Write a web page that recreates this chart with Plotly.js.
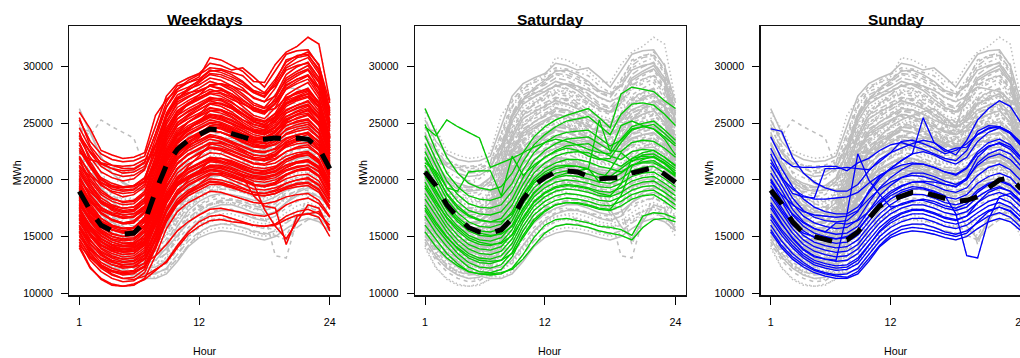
<!DOCTYPE html>
<html>
<head>
<meta charset="utf-8">
<script src="https://cdn.plot.ly/plotly-3.0.1.min.js"></script>
<style>
html,body{margin:0;padding:0;background:#fff;overflow:hidden;width:1020px;height:358px;}
#chart{width:1040px;height:358px;}
</style>
</head>
<body>
<div id="chart"></div>
<script>
// ---------------- DATA ----------------
const hours = [1,2,3,4,5,6,7,8,9,10,11,12,13,14,15,16,17,18,19,20,21,22,23,24];
const panelTitles = ["Weekdays", "Saturday", "Sunday"];
const xTickVals = [1, 12, 24];
const xTickText = ["1", "12", "24"];
const yTickVals = [10000, 15000, 20000, 25000, 30000];
const yTickText = ["10000", "15000", "20000", "25000", "30000"];

// Weekday load profiles (MWh)
const weekdays = [
[25300,23400,22300,21800,21600,21700,22100,24800,27400,28500,29000,29400,30300,30100,29700,29900,29100,28200,29600,31100,31400,31500,30100,26800],
[24600,22800,21400,21000,20800,20900,21500,24100,26900,28300,28600,28900,29700,29500,29100,28600,27800,27400,28700,30600,30900,31300,30200,26100],
[26000,24500,22600,22200,21900,22000,22400,25700,27100,28000,28600,29100,30800,30600,30100,29600,28700,28600,30200,31300,31800,32600,32000,27000],
[23700,22000,20700,20200,19900,20100,20900,23600,26400,27800,28200,28700,29300,29100,28700,28100,27200,26900,28100,29900,30400,30800,29400,25700],
[24200,21600,20100,19500,19300,19500,20100,22900,25900,27500,28000,28400,29000,28800,28300,27600,26800,26400,27500,29300,30000,30400,29000,25300],
[22600,21100,19800,19200,19000,19100,19900,22600,25600,27100,27600,28100,28700,28400,27900,27100,26400,26000,27200,29000,29600,30100,28700,25100],
[23100,21300,19600,18900,18500,18700,19400,22100,25100,26900,27400,27800,28300,28100,27600,26800,26100,25800,26800,28600,29200,29700,28200,24700],
[21600,20100,18900,18300,18100,18200,19000,21900,24900,26400,27000,27500,28000,27700,27300,26500,25700,25400,26400,28100,28700,29200,27700,24300],
[22100,20400,19100,18400,18000,18100,18800,21600,24400,26100,26600,27100,27600,27400,26900,26100,25400,25100,25900,27500,28100,28600,27200,23900],
[21100,19600,18400,17800,17500,17600,18400,21100,24100,25700,26300,26800,27300,27100,26600,25800,25100,24800,25600,27100,27700,28100,26800,23700],
[20600,19100,17900,17400,17100,17200,18000,20700,23700,25400,26000,26500,27000,26700,26300,25600,24900,24600,25300,26700,27200,27600,26400,23300],
[22400,21800,21500,21300,21200,21300,21800,22300,25800,27300,27700,27900,28300,28000,27400,26800,26200,25900,26700,28000,28500,28900,27500,24500],
[21900,19700,18100,17300,16900,17000,17700,20400,23400,25100,25700,26200,26700,26500,26000,25300,24700,24400,25100,26500,27000,27300,26100,23100],
[20100,18600,17400,16900,16600,16700,17500,20300,23100,24800,25400,25900,26400,26200,25800,25100,24500,24300,24900,26100,26600,27000,25800,22800],
[19900,18100,17000,16400,16100,16200,17100,19900,22800,24500,25100,25600,26100,25900,25500,24900,24300,24100,24700,25900,26300,26600,25500,22600],
[20400,18400,17100,16500,16200,16400,17200,19600,22400,24100,24800,25300,25800,25600,25200,24700,24200,24000,24400,25400,25800,26100,25100,22300],
[19600,17900,16600,16000,15700,15800,16700,19400,22200,23900,24600,25100,25600,25400,25000,24500,24000,23800,24200,25100,25400,25700,24800,22100],
[19100,17400,16200,15600,15300,15400,16300,19100,21900,23500,24300,24800,25300,25100,24700,24300,23800,23600,24000,24800,25100,25300,24400,21800],
[18800,17100,15900,15300,15000,15100,16000,18800,21600,23200,24000,24500,25000,24800,24400,24000,23600,23500,23700,24400,24700,24900,24100,21600],
[18500,16800,15600,15000,14700,14800,15700,18500,21300,22900,23700,24200,24700,24500,24100,23700,23300,23200,23400,24000,24300,24500,23700,21300],
[18200,16500,15300,14700,14400,14500,15400,18200,21000,22600,23400,23900,24400,24200,23800,23400,23000,22900,23100,23700,24000,24100,23400,21100],
[17900,16300,15100,14500,14200,14300,15100,17800,20600,22200,23000,23500,24000,23800,23400,23000,22600,22500,22700,23300,23600,23700,23000,20800],
[18600,17200,16300,15900,15700,15800,16500,18300,20900,22400,23100,23500,23900,23600,23200,22700,22200,22100,22500,23400,23900,24200,23400,21400],
[17500,15900,14800,14200,13900,14000,14800,17400,20200,21800,22600,23100,23600,23400,23000,22600,22200,22100,22300,22900,23200,23300,22600,20400],
[19300,17600,16400,15800,15500,15700,16700,19000,21600,23000,23600,24000,24400,24200,23900,23500,23200,23000,23700,25200,25800,26200,25000,22400],
[17200,15600,14500,13900,13600,13700,14500,17100,19800,21400,22200,22700,23200,23000,22600,22200,21800,21700,21900,22500,22800,22900,22200,20100],
[18000,16600,15500,15000,14800,14900,15500,17300,19500,21000,21800,22400,22900,22800,22500,22100,21800,21800,22200,23200,23700,24000,23100,21000],
[16900,15300,14200,13700,13400,13500,14300,16800,19400,21000,21800,22300,22800,22600,22200,21800,21400,21300,21500,22100,22400,22500,21800,19800],
[20800,19200,18000,17500,17200,17300,18000,20000,22600,24000,24600,25000,25500,25300,24900,24300,23800,23700,24300,25600,26100,26500,25400,22900],
[16600,15100,14000,13500,13200,13300,14000,16400,19000,20600,21400,21900,22400,22300,21900,21500,21100,21000,21200,21800,22100,22200,21500,19500],
[16300,14700,13600,13100,12800,12900,13600,16000,18600,20200,21000,21500,22000,21900,21500,21100,20700,20600,20800,21300,21600,21700,21100,19200],
[16000,14400,13300,12800,12500,12600,13300,15600,18200,19800,20600,21100,21600,21500,21100,20700,20300,20200,20400,20900,21200,21300,20700,18900],
[15700,14100,13000,12500,12200,12300,13000,15300,17900,19500,20200,20700,21200,21100,20700,20300,19900,19800,20000,20500,20800,20900,20300,18600],
[15400,13800,12700,12200,11900,12000,12700,15000,17500,19100,19800,20300,20800,20700,20300,19900,19500,19400,19600,20100,20400,20500,19900,18300],
[15100,13500,12500,11900,11600,11700,12400,14700,17200,18700,19500,20000,20500,20400,20000,19600,19200,19100,19300,19700,20000,20100,19500,18000],
[14800,13200,12200,11600,11300,11400,12100,14300,16800,18300,19100,19600,20100,20000,19700,19300,18900,18800,19000,19400,19700,19800,19200,17700],
[14500,12900,11900,11300,11000,11100,11800,14000,16500,18000,18800,19300,19800,19700,19400,19000,18700,18600,18800,19200,19400,19500,18900,17400],
[14000,12200,11300,10800,10600,10700,11300,13300,15700,17200,18000,18500,19000,18900,18600,18300,18000,17900,18100,18500,18700,18800,18200,16800],
[15900,14600,13700,13200,13000,13100,13600,15200,17400,18800,19600,20100,20600,20500,20200,19900,19600,19500,19800,20500,20900,21100,20400,18700],
[17000,15700,14800,14300,14100,14200,14800,16500,18700,20000,20700,21200,21700,21600,21300,20900,20600,20500,20800,21600,22000,22200,21500,19600],
[16600,15200,14300,13800,13600,13700,14300,16000,18200,19600,20300,20800,21300,21200,20900,20500,20200,20100,20400,21100,21500,21700,21000,19300],
[15300,13900,13000,12500,12300,12400,13000,14600,16700,18100,18900,19400,19900,19800,19500,19200,18900,18800,19100,19700,20000,20200,19600,18100],
[15500,13600,12400,11700,11300,11200,11500,12100,12700,14000,15200,15900,16400,16500,16300,16200,16000,15900,16100,16800,17200,17400,17000,16000],
[16500,14700,13500,12800,12400,12300,12600,13300,14300,15500,16300,16900,17400,17500,17300,17100,16900,16800,17100,17800,18200,18400,17900,16700],
[18200,16500,15300,14700,14400,14400,14900,16400,18500,19700,20300,20700,21100,21000,20700,20300,18600,17700,17500,14300,16800,17000,17200,15700],
[17600,15800,14600,14000,13700,13800,14400,16200,18300,19500,20100,20500,20900,20800,20500,20100,19700,17400,15900,14800,16300,17800,17500,15500],
[19500,17600,16300,15600,15300,15300,15800,17000,18800,19800,20300,20600,20900,21000,20700,20400,20100,20000,20200,20800,21100,21300,20800,19200],
[14200,12300,11200,10700,10600,10800,11200,12000,12800,14200,15400,16300,16800,16900,16600,16300,16000,15900,16000,16500,16900,17000,16700,15000],
[25500,23000,21800,21300,21000,21000,21600,24000,26500,28000,28800,29300,29900,29800,29500,29200,28300,27700,28900,30400,31000,31100,29600,26300],
[24000,22500,21500,21000,20600,20700,21200,23200,25800,27200,27900,28600,29400,29300,28900,28400,27700,27300,28500,30100,30800,31000,29800,25900],
[23300,21300,20200,19700,19400,19500,20200,22400,25200,26700,27300,27800,28300,28500,28300,27900,27300,26900,27400,28800,29400,29800,28600,25000],
[22000,20600,19500,19000,18800,18900,19600,21900,24600,26100,26800,27300,27700,27600,27100,26700,26300,26000,26800,28300,28900,29300,28100,24800],
[21300,19900,18700,18100,17800,17900,18700,21300,24200,25900,26700,27200,27800,27900,27600,27000,26400,26100,26300,27300,27600,27900,26900,24000],
[20900,19400,18200,17600,17300,17400,18200,20800,23800,25400,26100,26600,27200,27200,26800,26200,25500,25200,25800,27000,27400,27800,26700,23600],
[20200,18700,17600,17000,16700,16800,17600,20100,23100,24800,25600,26200,26800,26700,26300,25800,25300,25100,25600,26700,27100,27400,26400,23400],
[19700,18200,17100,16500,16200,16300,17100,19700,22600,24300,25100,25700,26300,26200,25800,25300,24900,24700,25200,26200,26600,26900,25900,23000],
[19200,17700,16600,16000,15700,15800,16600,19200,22100,23800,24600,25200,25800,25700,25300,24800,24400,24200,24700,25600,26000,26300,25400,22600],
[18900,17300,16200,15600,15400,15500,16300,18900,21700,23300,24100,24600,25100,25000,24600,24100,23700,23600,24200,25300,25700,25900,24900,22300],
[18400,16900,15800,15200,15000,15100,15900,18500,21200,22800,23600,24100,24700,24600,24200,23800,23400,23300,23800,24800,25200,25400,24400,21900],
[17800,16400,15400,14800,14600,14700,15500,18000,20800,22400,23200,23800,24300,24200,23800,23300,22900,22800,23200,24100,24500,24700,23800,21500],
[17400,16000,15000,14500,14200,14300,15100,17600,20400,22000,22800,23300,23800,23700,23300,22900,22500,22400,22800,23600,24000,24200,23300,21100],
[16900,15500,14600,14000,13800,13900,14600,17000,19800,21500,22300,22800,23300,23200,22800,22400,22000,21900,22300,23100,23500,23700,22800,20600],
[16500,15100,14200,13700,13400,13500,14200,16600,19300,21000,21800,22300,22800,22700,22300,21900,21500,21400,21800,22500,22900,23100,22300,20200],
[21200,20300,19700,19400,19300,19400,19900,21200,23500,25000,25800,26400,27100,27000,26500,25900,25200,24900,25500,26800,27300,27600,26500,23800],
[19000,18000,17300,16900,16700,16800,17300,18900,21600,23400,24400,25200,26100,26100,25600,24900,24200,24000,24600,25900,26400,26700,25600,22800],
[17700,16700,16000,15600,15400,15500,16000,17500,20000,21800,22900,23700,24600,24700,24300,23700,23100,22900,23400,24500,24900,25100,24100,21700],
[16200,15200,14500,14100,13900,14000,14500,15900,18300,20000,21200,22100,23100,23300,23000,22500,21900,21700,22100,23000,23400,23600,22700,20500],
[15000,13900,13100,12700,12500,12600,13100,14800,17200,18900,20000,20800,21700,21900,21700,21300,20900,20700,21000,21800,22200,22400,21600,19500],
[14300,13100,12300,11900,11700,11800,12300,13900,16300,17900,18900,19600,20400,20600,20400,20000,19600,19400,19700,20400,20800,21000,20300,18400],
[22800,21200,20000,19400,19100,19200,19800,21500,24000,25700,26700,27500,28400,28500,28100,27400,26600,26300,27000,28400,28900,29200,28000,25000],
[23900,22400,21200,20600,20300,20400,21000,23000,25500,27100,28100,28800,29600,29700,29300,28700,27900,27600,28300,29700,30100,30300,29000,25700],
[18300,17100,16300,15900,15700,15800,16400,18000,20600,22300,23300,24000,24800,24900,24500,24000,23500,23300,23800,25000,25500,25800,24800,22300],
[20000,18900,18100,17700,17500,17600,18200,19900,22400,24100,25100,25800,26700,26800,26400,25800,25100,24900,25500,26800,27300,27600,26500,23700],
[16800,15000,13900,13300,13000,13100,13800,16100,18800,20300,21000,21400,21800,21700,21400,21000,20600,20500,20700,21300,21600,21800,21200,19400],
[15800,14300,13400,12900,12700,12800,13400,15500,18000,19500,20300,20800,21300,21300,21000,20700,20400,20300,20500,21100,21500,21600,21000,19100],
[17300,15800,14800,14300,14100,14100,14600,16400,18700,20100,20900,21400,21900,21900,21600,21200,20900,20800,21100,21800,22200,22400,21700,19900],
[19400,18200,17500,17100,16900,17000,17500,19300,21900,23600,24500,25100,25700,25500,25000,24600,24300,24400,25500,27200,27800,28000,26800,23800],
[14700,13300,12500,12000,11800,11900,12400,14200,16400,17800,18600,19100,19600,19600,19300,19000,18700,18600,18800,19300,19600,19700,19100,17500]
];

// Saturday load profiles (MWh)
const saturdays = [
[26300,24100,22000,20600,19700,19300,19100,19400,20600,22400,23800,24700,25300,25700,26000,26300,25500,24600,27600,28200,28000,27800,27000,26300],
[24700,23900,25300,24700,24200,23700,21100,21500,21900,22400,22900,23300,23600,23400,23100,22700,22400,22300,23600,24700,25000,25200,24400,23500],
[21500,20800,19300,19000,20700,20800,20800,18600,22100,20400,21300,22000,22500,22800,22600,22100,21800,21900,23300,24400,24700,24900,24100,23200],
[24900,22600,20600,19400,18600,18300,18200,18500,19700,21600,23100,24000,24700,25200,25400,25600,24800,24000,25800,26700,26800,26600,25800,24800],
[23900,21800,19900,18700,17900,17600,17500,17800,19000,20900,22400,23300,23900,24200,24300,24400,23700,23000,23500,24500,24700,24500,23800,23000],
[23200,21200,19300,18100,17300,17000,16900,17200,18300,20200,21700,22600,23200,23600,23700,23800,23200,22600,22500,23300,23500,23400,22800,22000],
[22500,20600,18700,17500,16800,16400,16300,16600,17800,19600,21100,22000,22600,23000,23100,23200,22600,22100,21800,22500,22700,22600,22000,21300],
[21900,20100,18300,17100,16300,15900,15800,16100,17200,19100,20600,21500,22100,22400,22500,22400,21900,21600,21200,21900,22100,22000,21500,20800],
[21300,19600,17800,16700,15900,15500,15400,15700,16800,18700,20100,21000,21500,21800,21800,21600,21200,21000,20700,21300,21500,21500,21000,20300],
[20800,19100,17400,16300,15500,15100,15000,15300,16400,18300,19700,20500,21000,21200,21200,21000,19800,20900,22400,21600,22200,22300,21700,21000],
[20300,18700,17000,15900,15100,14700,14600,14900,16000,17900,19300,20100,20600,20800,20700,20500,20200,20100,20600,21300,21600,21700,21100,20400],
[19800,18200,16600,15500,14700,14300,14200,14500,15600,17500,18900,19700,20200,20400,20300,20100,19800,19700,20100,20800,21100,21200,20600,19900],
[19300,17700,16200,15100,14300,13900,13800,14100,15200,17100,18500,19300,19800,20000,19900,19700,19400,19300,19700,20300,20600,20700,20100,19400],
[18800,17300,15800,14700,13900,13500,13400,13700,14800,16700,18100,18900,19400,19600,19500,19300,19000,18900,19300,19900,20200,20300,19700,19000],
[18300,16800,15400,14300,13500,13100,13000,13300,14400,16300,17700,18500,19000,19200,19100,18900,18600,18500,18900,19500,19800,19900,19300,18600],
[17800,16300,15000,13900,13100,12700,12600,12900,14000,15900,17300,18100,18600,18800,18700,18500,18200,18100,18500,19100,19400,19500,18900,18200],
[17300,15800,14600,13500,12700,12300,12200,12500,13600,15500,16900,17700,18200,18400,18300,18100,17800,17700,18100,18700,19000,19100,18500,17800],
[16800,15300,14100,13100,12300,11900,11800,12100,13200,15100,16500,17300,17800,18000,17900,17700,17400,17300,17700,18300,18600,18700,18100,17400],
[16000,14700,13500,12600,11900,11700,11600,11700,12200,13400,14900,16000,16500,16600,16400,16200,15900,15800,15600,15100,16800,17100,17000,16600],
[15400,14100,13100,12400,11900,11700,11700,11800,12100,13000,14200,15300,15900,16100,16000,15800,15500,15300,15100,14700,15800,16500,16600,16300],
[22000,20400,18800,17700,16900,16500,16300,16300,17000,18600,19900,20700,21200,21300,21200,20900,20500,20300,21000,21700,21900,22000,21400,20600],
[20500,18900,17500,16500,15700,15300,15100,15200,15900,17400,18800,19700,20300,20600,20800,21000,25300,22500,24800,25200,24800,24500,23600,22200],
[19500,18000,16700,15700,14900,14500,14300,14400,15100,16600,18000,18800,19300,19500,19400,19200,18800,18600,19600,21900,22400,22600,22000,21200],
[17500,16100,14900,14000,13300,12900,12800,12900,13500,14900,16300,17200,17800,18000,18000,17800,17500,17400,18600,21200,21800,22100,21500,20500]
];

// Sunday load profiles (MWh)
const sundays = [
[24500,24300,22000,20600,19800,19300,19000,19000,19600,20800,21800,22400,22800,23200,23500,23300,22700,22200,23500,25300,26300,27000,26500,25000],
[23800,21900,21200,21100,21100,21200,21200,20800,21500,21900,22600,23100,23300,23000,22700,22300,21900,21700,22600,24300,24800,24700,24200,23200],
[22300,20300,18800,18500,18400,21000,21000,21100,21000,20900,21600,22400,23400,23500,23200,22800,22300,22600,23200,24000,24500,24700,24200,23300],
[21800,20100,18400,17300,16700,16400,16300,16400,17200,19000,20300,21000,21700,22300,25500,23300,22500,22800,22900,24000,24600,24700,24100,23000],
[21200,19600,17900,16800,16200,15900,15700,15800,16500,18000,19300,20200,20900,21400,21400,21100,20700,20400,21000,22300,23000,23200,22700,21700],
[20600,19100,17400,16300,15700,15400,15200,15300,15900,17300,18600,19500,20200,20600,20600,20300,19900,19600,20100,21300,22000,22300,21800,20800],
[20100,18600,16900,15900,15300,15000,14800,14900,15500,16800,18000,18800,19400,19800,19800,19500,19100,18900,19300,20400,21100,21400,20900,19900],
[19500,18100,16500,15500,14900,14600,14400,14500,15100,16300,17500,18300,18900,19200,19200,18900,18500,18300,18700,19700,20300,20600,20200,19200],
[19000,17600,16100,15100,14500,14200,14000,14100,14700,15900,17000,17800,18400,18700,18700,18400,18000,17800,18100,19100,19700,20000,19600,18700],
[18500,17100,15700,14700,14100,13800,13600,13700,14300,15500,16600,17400,17900,18200,18200,17900,17500,17300,17600,18500,19100,19400,19000,18100],
[18000,16600,15300,14300,13700,13400,13200,13300,13900,15100,16200,17000,17500,17800,17800,17500,17100,16900,17200,18000,18600,18900,18500,17600],
[17500,16100,14900,13900,13300,13000,12800,12900,13500,14700,15800,16600,17100,17400,17400,17100,16700,16500,16800,17500,18100,18400,18000,17100],
[17000,15600,14500,13500,12900,12600,12400,12500,13100,14300,15400,16200,16700,17000,17000,16700,16300,16100,16400,17100,17700,18000,17600,16700],
[16500,15100,14000,13100,12500,12200,12000,12100,12600,13800,15000,15800,16300,16600,16600,16300,15900,15700,16000,16700,17300,17600,17200,16300],
[16000,14600,13500,12700,12100,11800,11600,11700,12200,13400,14600,15400,15900,16100,16100,15800,15400,15200,15500,16200,16800,17100,16700,15800],
[15400,14000,13000,12300,11800,11500,11300,11300,11700,12800,14100,14900,15300,15500,15400,15200,14900,14700,15000,15700,16300,16600,16300,15500],
[18800,17300,16000,15300,15000,14900,14800,15000,15600,16800,17900,18600,19100,19400,19300,19000,18600,17000,13300,13100,16500,18500,18800,18000],
[21500,20200,19200,18600,18300,18300,18400,18500,18900,19700,20400,20900,21300,21500,21400,21100,20700,20500,21100,22500,23300,23600,23100,22000],
[20000,18200,17000,16200,15700,15400,16200,16100,16400,17200,18200,19000,19500,19800,19900,19800,19600,19400,20200,22000,22900,23300,22900,21900],
[17800,16200,14800,13800,13200,13000,12900,17000,22300,20000,18700,17600,17800,18100,18300,18100,17700,17500,17900,18900,19600,19900,19500,18600],
[16800,15400,14200,13300,12700,12400,12200,12300,12900,14200,15500,16400,17000,17300,17300,17000,16600,16400,16800,18000,18900,19300,19000,18100],
[19800,18700,17800,17200,16900,16800,16700,16800,17300,18300,19200,19800,20200,20400,20300,20000,19600,19400,20000,21500,22300,22700,22300,21200],
[15600,14200,13200,12500,12000,11700,11500,11400,11900,13000,14200,15100,15600,15800,15700,15500,15200,15000,15300,16300,17200,17600,17300,16400],
[22800,21000,19400,18300,17600,17200,17000,17000,17600,18900,20100,21000,21700,22300,22500,22200,21700,21400,22000,23400,24200,24600,24100,23000]
];

// Mean profiles (MWh)
const weekdayMean  = [19000,17300,16000,15500,15200,15300,16300,19000,21300,22700,23500,24000,24500,24400,24100,23800,23500,23600,23700,23600,23700,23600,22800,21000];
const saturdayMean = [20700,19500,17800,16700,15800,15400,15300,15600,16600,18300,19500,20200,20700,20800,20700,20300,20100,20100,20200,20600,20900,21100,20500,19800];
const sundayMean   = [19100,17900,16300,15300,15000,14700,14500,14700,15400,16600,17700,18200,18600,18900,18900,18600,18300,18100,18200,18500,19300,20000,20200,19200];

// ---------------- CHART ----------------
const W = 1040, H = 358;
const FONT = "Liberation Sans, Arial, Helvetica, sans-serif";
const panelLeft = [69.3, 415.0, 760.7];
const panelWidth = 270.5;
const plotTop = 26, plotBottom = 295.3;
const greyDash = ["solid", "4px,4px", "1.5px,2.5px", "1.5px,3px,4px,3px", "7px,3px"];
const colors = ["#FF0000", "#00CD00", "#0000FF"];
const colorWidths = [1.5, 1.3, 1.3];
const groups = [weekdays, saturdays, sundays];
const means = [weekdayMean, saturdayMean, sundayMean];
const allDays = [];
groups.forEach(g => g.forEach((d, j) => allDays.push({y: d, dash: greyDash[j % 5]})));

const traces = [];
const layout = {
  width: W, height: H,
  margin: {l: 0, r: 0, t: 0, b: 0},
  paper_bgcolor: "#fff", plot_bgcolor: "#fff",
  showlegend: false,
  font: {family: FONT, color: "#000", size: 10.7},
  annotations: []
};

for (let p = 0; p < 3; p++) {
  const sfx = p === 0 ? "" : String(p + 1);
  const xa = "x" + sfx, ya = "y" + sfx;
  allDays.forEach(d => traces.push({
    x: hours, y: d.y, mode: "lines", xaxis: xa, yaxis: ya, hoverinfo: "skip",
    line: {color: "#BEBEBE", width: 1.5, dash: d.dash}
  }));
  groups[p].forEach(d => traces.push({
    x: hours, y: d, mode: "lines", xaxis: xa, yaxis: ya, hoverinfo: "skip",
    line: {color: colors[p], width: colorWidths[p]}
  }));
  traces.push({
    x: hours, y: means[p], mode: "lines", xaxis: xa, yaxis: ya, hoverinfo: "skip",
    line: {color: "#000", width: 5, dash: "18px,15px"}
  });

  const l = panelLeft[p];
  layout["xaxis" + sfx] = {
    domain: [l / W, (l + panelWidth) / W],
    anchor: ya,
    range: [0.08, 24.92],
    tickvals: xTickVals, ticktext: xTickText,
    ticks: "outside", ticklen: 8, tickwidth: 1, tickcolor: "#000",
    showline: true, mirror: true, linecolor: "#111", linewidth: 1.3,
    showgrid: false, zeroline: false,
    tickfont: {family: FONT, size: 10.7, color: "#000"},
    ticklabelstandoff: 9,
    automargin: false, fixedrange: true
  };
  layout["yaxis" + sfx] = {
    domain: [1 - plotBottom / H, 1 - plotTop / H],
    anchor: xa,
    range: [9806, 33595],
    tickvals: yTickVals, ticktext: yTickText,
    ticks: "outside", ticklen: 7, tickwidth: 1, tickcolor: "#000",
    showline: true, mirror: true, linecolor: "#111", linewidth: 1.3,
    showgrid: false, zeroline: false,
    tickfont: {family: FONT, size: 10.7, color: "#000"},
    ticklabelstandoff: 6,
    automargin: false, fixedrange: true
  };

  const cx = (l + panelWidth / 2) / W;
  layout.annotations.push({
    text: "<b>" + panelTitles[p] + "</b>", xref: "paper", yref: "paper",
    x: cx, y: 1 - 19.5 / H, xanchor: "center", yanchor: "middle",
    showarrow: false, font: {family: FONT, size: 15.5, color: "#000"}
  });
  layout.annotations.push({
    text: "Hour", xref: "paper", yref: "paper",
    x: cx, y: 1 - 351 / H, xanchor: "center", yanchor: "middle",
    showarrow: false, font: {family: FONT, size: 10.7, color: "#000"}
  });
  layout.annotations.push({
    text: "MWh", xref: "paper", yref: "paper", textangle: -90,
    x: (l - 52) / W, y: 1 - 173 / H, xanchor: "center", yanchor: "middle",
    showarrow: false, font: {family: FONT, size: 10.7, color: "#000"}
  });
}

Plotly.newPlot("chart", traces, layout, {staticPlot: true, displayModeBar: false});
</script>
</body>
</html>
